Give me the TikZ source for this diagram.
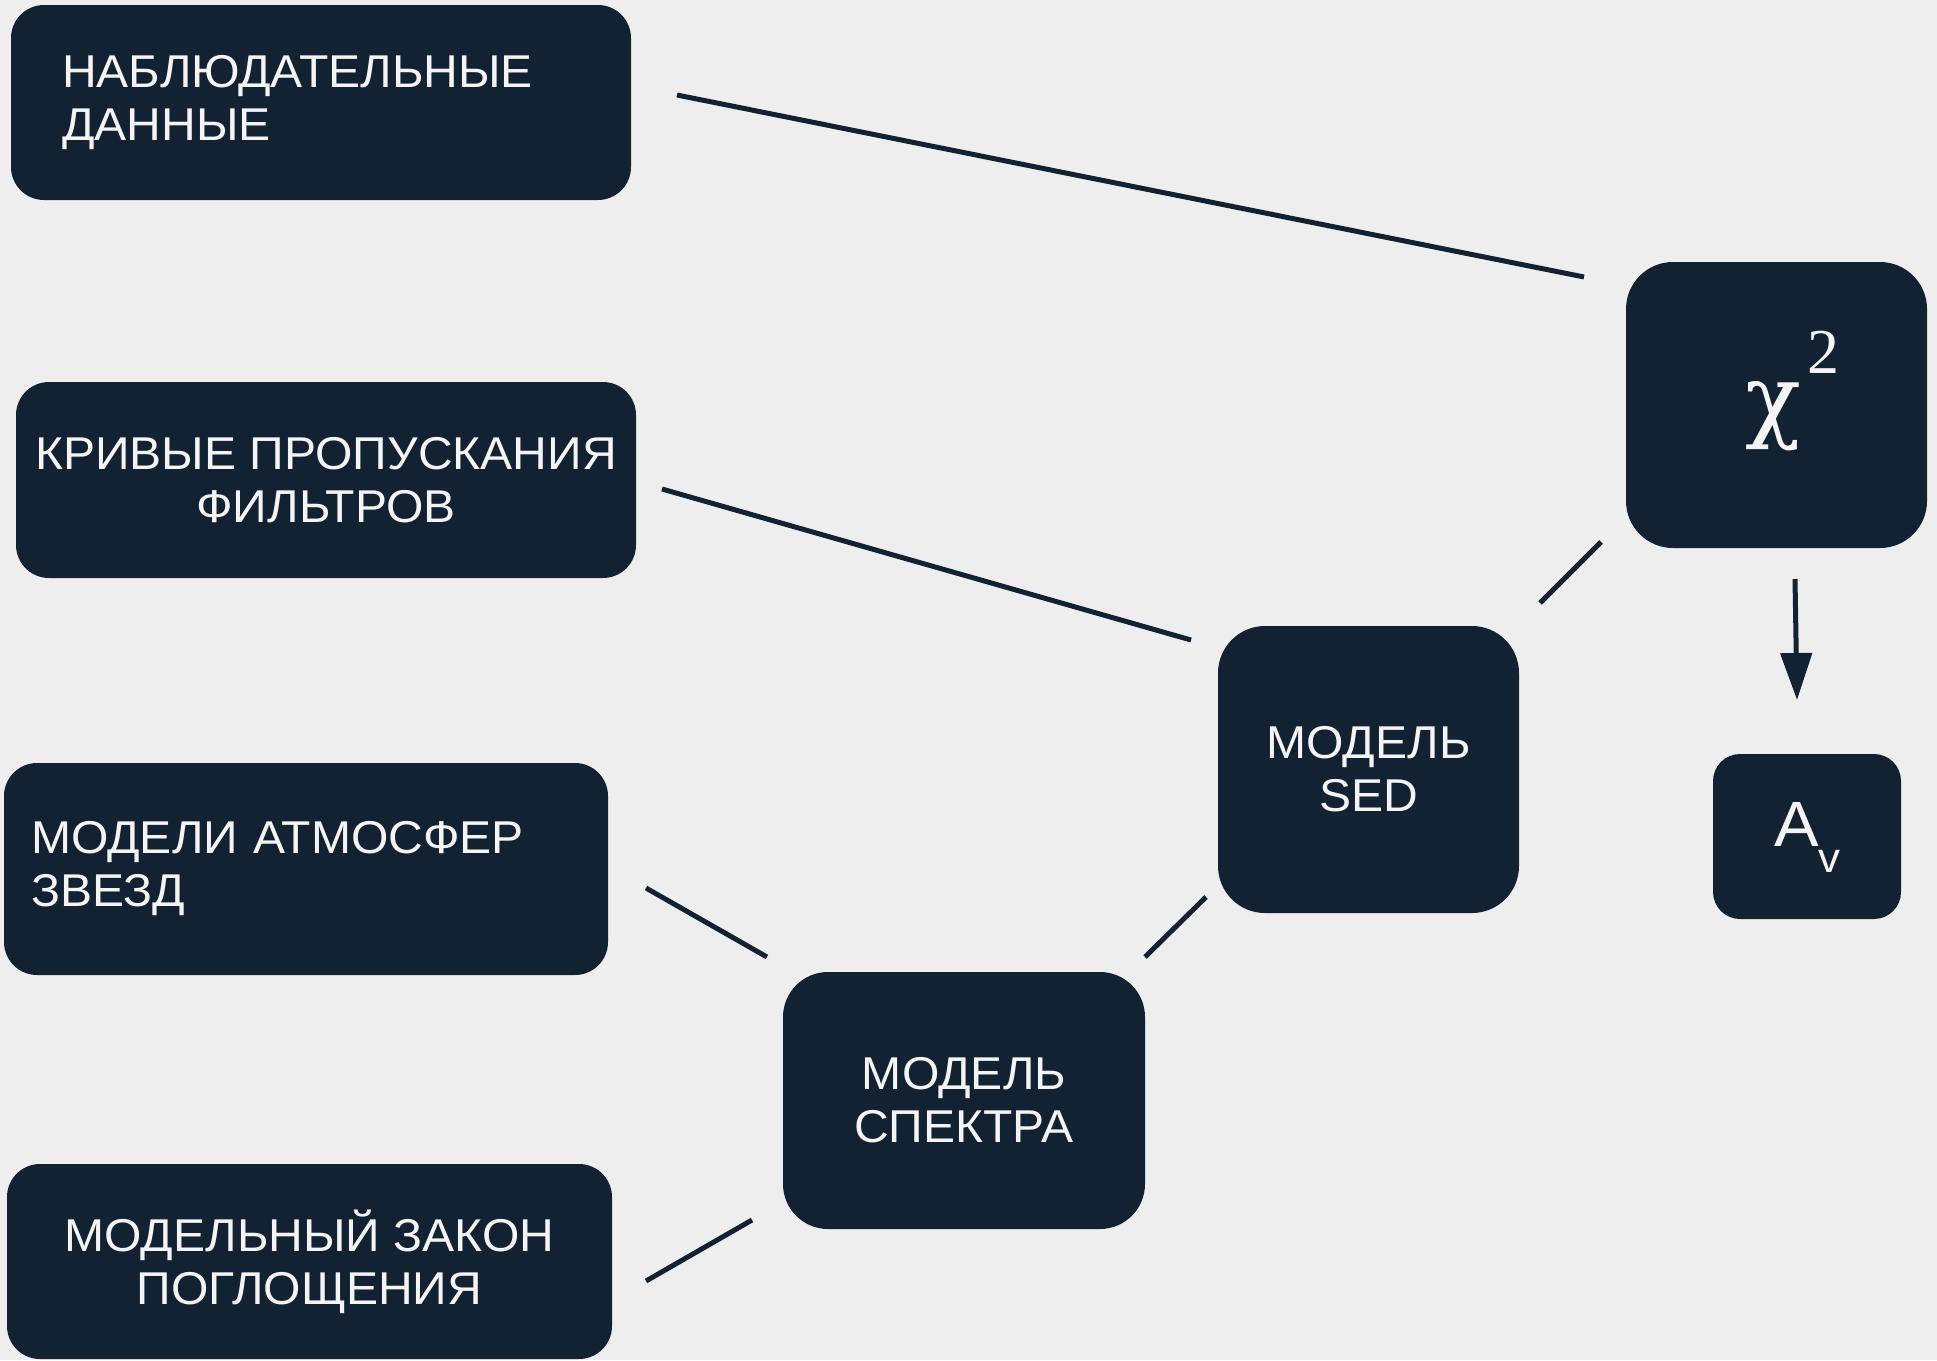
\documentclass[tikz,border=0pt]{standalone}
\usepackage{fontspec}
\setmainfont[FakeStretch=1.045]{Liberation Sans}
\newfontfamily\grfont{Liberation Serif}
\newfontfamily\chifont{DejaVu Serif}
\usetikzlibrary{arrows.meta}
\definecolor{navy}{HTML}{132233}
\definecolor{bgc}{HTML}{EEEEEE}
\definecolor{txt}{HTML}{F4F4F4}
\tikzset{
 box/.style={fill=navy, draw=none, rounded corners=#1, inner sep=0pt, text=txt, font=\fontsize{46}{53}\selectfont},
 box/.default=33pt,
 conn/.style={draw=navy, line width=5pt},
 lbl/.style={anchor=base west, inner sep=0pt, text=txt},
}
\begin{document}
\begin{tikzpicture}[x=1pt,y=-1pt]
\fill[bgc] (0,0) rectangle (1937,1360);
\useasboundingbox (0,0) rectangle (1937,1360);
% boxes
\node[box, minimum width=620pt, minimum height=195pt, text width=518pt, align=left] (obs) at (321,102.5) {НАБЛЮДАТЕЛЬНЫЕ\\ДАННЫЕ};
\node[box, minimum width=620pt, minimum height=196pt, align=center] (filt) at (326,480) {КРИВЫЕ ПРОПУСКАНИЯ\\ФИЛЬТРОВ};
\node[box, minimum width=604pt, minimum height=212pt, text width=550pt, align=left] (atm) at (306,869) {МОДЕЛИ АТМОСФЕР\\ЗВЕЗД};
\node[box, minimum width=605pt, minimum height=195pt, align=center] (ext) at (309.5,1261.5) {МОДЕЛЬНЫЙ ЗАКОН\\ПОГЛОЩЕНИЯ};
\node[box=45pt, minimum width=362pt, minimum height=257pt, align=center] (spec) at (964,1100.5) {МОДЕЛЬ\\СПЕКТРА};
\node[box=47pt, minimum width=301pt, minimum height=287pt, align=center] (sed) at (1368.5,769.5) {МОДЕЛЬ\\SED};
\node[box=47pt, minimum width=301pt, minimum height=286pt] (chi) at (1776.5,405) {};
\node[box=27pt, minimum width=188pt, minimum height=165pt] (av) at (1807,836.5) {};
% labels in the right boxes
\node[lbl] (chitxt) at (1745,430) {\makebox[62pt][l]{\chifont\fontsize{92}{92}\selectfont χ}\raisebox{57pt}{\grfont\fontsize{64}{64}\selectfont 2}};
\node[lbl, font=\fontsize{64}{64}\selectfont] (avtxt) at (1774,846) {A\raisebox{-26pt}{\fontsize{42}{42}\selectfont v}};
% connector end points
\coordinate (l1a) at (677,95);   \coordinate (l1b) at (1584,277);
\coordinate (l2a) at (662,489);  \coordinate (l2b) at (1191,640);
\coordinate (l3a) at (1540,603); \coordinate (l3b) at (1601,542);
\coordinate (l4a) at (646,888);  \coordinate (l4b) at (767,957);
\coordinate (l5a) at (1145,957); \coordinate (l5b) at (1206,897);
\coordinate (l6a) at (646,1281); \coordinate (l6b) at (752,1220);
\coordinate (ara) at (1795,579); \coordinate (arb) at (1797,700);
\draw[conn] (l1a) -- (l1b);
\draw[conn] (l2a) -- (l2b);
\draw[conn] (l3a) -- (l3b);
\draw[conn] (l4a) -- (l4b);
\draw[conn] (l5a) -- (l5b);
\draw[conn] (l6a) -- (l6b);
\draw[conn, -{Triangle[length=47pt,width=31pt]}] (ara) -- (arb);
\end{tikzpicture}
\end{document}
